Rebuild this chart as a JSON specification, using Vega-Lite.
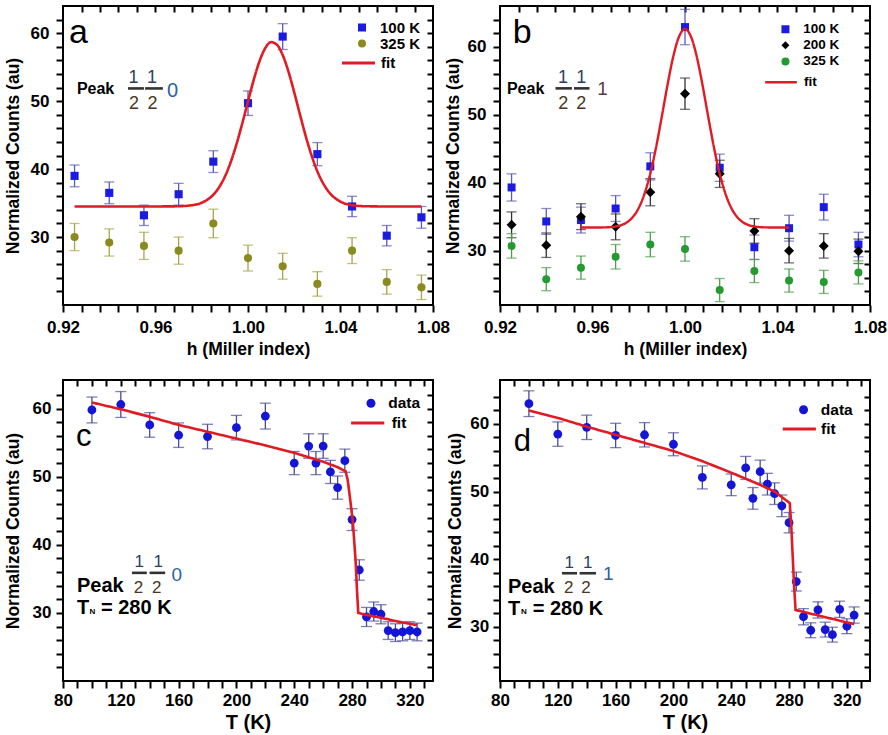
{
"$schema": "https://vega.github.io/schema/vega-lite/v6.json",
"background": "white",
"padding": {"left": 3, "top": 4, "right": 5, "bottom": 5},
"config": {
  "font": "Liberation Sans",
  "view": {"stroke": "black", "strokeWidth": 2},
  "axis": {"grid": false, "domain": false, "ticks": true, "labelFont": "Liberation Sans", "labelFontSize": 17, "labelFontWeight": "bold", "labelColor": "black", "titleFont": "Liberation Sans", "titleFontSize": 17.5, "titleFontWeight": "bold", "titleColor": "black", "tickColor": "#000000", "tickWidth": 2, "tickOpacity": 1, "labelFlush": false, "labelOverlap": false},
  "legend": {"labelFont": "Liberation Sans", "labelFontWeight": "bold", "labelColor": "black", "padding": 0, "columns": 1}
},
"datasets": {
  "a_pts": [
    {"x": 0.925, "y": 39.0, "e": 1.6, "s": "100 K"}, {"x": 0.94, "y": 36.5, "e": 1.6, "s": "100 K"}, {"x": 0.955, "y": 33.2, "e": 1.5, "s": "100 K"}, {"x": 0.97, "y": 36.3, "e": 1.6, "s": "100 K"}, {"x": 0.985, "y": 41.1, "e": 1.6, "s": "100 K"}, {"x": 1.0, "y": 49.7, "e": 1.8, "s": "100 K"}, {"x": 1.015, "y": 59.5, "e": 1.9, "s": "100 K"}, {"x": 1.03, "y": 42.2, "e": 1.7, "s": "100 K"}, {"x": 1.045, "y": 34.5, "e": 1.5, "s": "100 K"}, {"x": 1.06, "y": 30.2, "e": 1.5, "s": "100 K"}, {"x": 1.075, "y": 32.9, "e": 1.6, "s": "100 K"},
    {"x": 0.925, "y": 30.0, "e": 2.0, "s": "325 K"}, {"x": 0.94, "y": 29.2, "e": 2.0, "s": "325 K"}, {"x": 0.955, "y": 28.7, "e": 2.0, "s": "325 K"}, {"x": 0.97, "y": 28.0, "e": 2.0, "s": "325 K"}, {"x": 0.985, "y": 32.0, "e": 2.1, "s": "325 K"}, {"x": 1.0, "y": 26.9, "e": 1.9, "s": "325 K"}, {"x": 1.015, "y": 25.7, "e": 1.9, "s": "325 K"}, {"x": 1.03, "y": 23.1, "e": 1.8, "s": "325 K"}, {"x": 1.045, "y": 28.0, "e": 1.9, "s": "325 K"}, {"x": 1.06, "y": 23.4, "e": 1.8, "s": "325 K"}, {"x": 1.075, "y": 22.6, "e": 1.8, "s": "325 K"}
  ],
  "a_fit": [
    {"x": 0.925, "y": 34.5, "s": "fit"}, {"x": 0.94, "y": 34.5, "s": "fit"}, {"x": 0.955, "y": 34.5, "s": "fit"}, {"x": 0.965, "y": 34.51, "s": "fit"}, {"x": 0.97, "y": 34.53, "s": "fit"}, {"x": 0.975, "y": 34.65, "s": "fit"}, {"x": 0.98, "y": 35.05, "s": "fit"}, {"x": 0.985, "y": 36.23, "s": "fit"}, {"x": 0.9875, "y": 37.33, "s": "fit"}, {"x": 0.99, "y": 38.89, "s": "fit"}, {"x": 0.9925, "y": 41.0, "s": "fit"}, {"x": 0.995, "y": 43.63, "s": "fit"}, {"x": 0.9975, "y": 46.69, "s": "fit"}, {"x": 1.0, "y": 49.97, "s": "fit"}, {"x": 1.0025, "y": 53.17, "s": "fit"}, {"x": 1.005, "y": 55.9, "s": "fit"}, {"x": 1.0075, "y": 57.83, "s": "fit"}, {"x": 1.01, "y": 58.68, "s": "fit"}, {"x": 1.0125, "y": 58.31, "s": "fit"}, {"x": 1.015, "y": 56.79, "s": "fit"}, {"x": 1.0175, "y": 54.34, "s": "fit"}, {"x": 1.02, "y": 51.28, "s": "fit"}, {"x": 1.0225, "y": 47.99, "s": "fit"}, {"x": 1.025, "y": 44.81, "s": "fit"}, {"x": 1.0275, "y": 41.99, "s": "fit"}, {"x": 1.03, "y": 39.67, "s": "fit"}, {"x": 1.0325, "y": 37.9, "s": "fit"}, {"x": 1.035, "y": 36.62, "s": "fit"}, {"x": 1.04, "y": 35.21, "s": "fit"}, {"x": 1.045, "y": 34.69, "s": "fit"}, {"x": 1.05, "y": 34.54, "s": "fit"}, {"x": 1.06, "y": 34.5, "s": "fit"}, {"x": 1.075, "y": 34.5, "s": "fit"}
  ],
  "b_pts": [
    {"x": 0.925, "y": 39.3, "e": 2.0, "s": "100 K"}, {"x": 0.94, "y": 34.3, "e": 1.9, "s": "100 K"}, {"x": 0.955, "y": 34.5, "e": 1.9, "s": "100 K"}, {"x": 0.97, "y": 36.2, "e": 1.9, "s": "100 K"}, {"x": 0.985, "y": 42.4, "e": 2.0, "s": "100 K"}, {"x": 1.0, "y": 62.9, "e": 2.6, "s": "100 K"}, {"x": 1.015, "y": 42.2, "e": 2.0, "s": "100 K"}, {"x": 1.03, "y": 30.5, "e": 1.8, "s": "100 K"}, {"x": 1.045, "y": 33.3, "e": 1.9, "s": "100 K"}, {"x": 1.06, "y": 36.4, "e": 1.9, "s": "100 K"}, {"x": 1.075, "y": 30.9, "e": 1.8, "s": "100 K"},
    {"x": 0.925, "y": 33.8, "e": 1.9, "s": "200 K"}, {"x": 0.94, "y": 30.8, "e": 1.8, "s": "200 K"}, {"x": 0.955, "y": 35.0, "e": 1.9, "s": "200 K"}, {"x": 0.97, "y": 33.5, "e": 1.9, "s": "200 K"}, {"x": 0.985, "y": 38.6, "e": 2.0, "s": "200 K"}, {"x": 1.0, "y": 53.1, "e": 2.3, "s": "200 K"}, {"x": 1.015, "y": 41.3, "e": 2.0, "s": "200 K"}, {"x": 1.03, "y": 32.9, "e": 1.8, "s": "200 K"}, {"x": 1.045, "y": 30.0, "e": 1.8, "s": "200 K"}, {"x": 1.06, "y": 30.7, "e": 1.8, "s": "200 K"}, {"x": 1.075, "y": 29.9, "e": 1.8, "s": "200 K"},
    {"x": 0.925, "y": 30.7, "e": 1.8, "s": "325 K"}, {"x": 0.94, "y": 25.8, "e": 1.7, "s": "325 K"}, {"x": 0.955, "y": 27.5, "e": 1.7, "s": "325 K"}, {"x": 0.97, "y": 29.1, "e": 1.8, "s": "325 K"}, {"x": 0.985, "y": 30.9, "e": 1.8, "s": "325 K"}, {"x": 1.0, "y": 30.25, "e": 1.8, "s": "325 K"}, {"x": 1.015, "y": 24.2, "e": 1.7, "s": "325 K"}, {"x": 1.03, "y": 27.0, "e": 1.7, "s": "325 K"}, {"x": 1.045, "y": 25.6, "e": 1.7, "s": "325 K"}, {"x": 1.06, "y": 25.4, "e": 1.7, "s": "325 K"}, {"x": 1.075, "y": 26.8, "e": 1.7, "s": "325 K"}
  ],
  "b_fit": [
    {"x": 0.955, "y": 33.4, "s": "fit"}, {"x": 0.96, "y": 33.4, "s": "fit"}, {"x": 0.965, "y": 33.42, "s": "fit"}, {"x": 0.97, "y": 33.56, "s": "fit"}, {"x": 0.9725, "y": 33.77, "s": "fit"}, {"x": 0.975, "y": 34.19, "s": "fit"}, {"x": 0.9775, "y": 34.97, "s": "fit"}, {"x": 0.98, "y": 36.29, "s": "fit"}, {"x": 0.9825, "y": 38.37, "s": "fit"}, {"x": 0.985, "y": 41.35, "s": "fit"}, {"x": 0.9875, "y": 45.23, "s": "fit"}, {"x": 0.99, "y": 49.78, "s": "fit"}, {"x": 0.9925, "y": 54.5, "s": "fit"}, {"x": 0.995, "y": 58.67, "s": "fit"}, {"x": 0.9975, "y": 61.56, "s": "fit"}, {"x": 1.0, "y": 62.6, "s": "fit"}, {"x": 1.0025, "y": 61.56, "s": "fit"}, {"x": 1.005, "y": 58.67, "s": "fit"}, {"x": 1.0075, "y": 54.5, "s": "fit"}, {"x": 1.01, "y": 49.78, "s": "fit"}, {"x": 1.0125, "y": 45.23, "s": "fit"}, {"x": 1.015, "y": 41.35, "s": "fit"}, {"x": 1.0175, "y": 38.37, "s": "fit"}, {"x": 1.02, "y": 36.29, "s": "fit"}, {"x": 1.0225, "y": 34.97, "s": "fit"}, {"x": 1.025, "y": 34.19, "s": "fit"}, {"x": 1.0275, "y": 33.77, "s": "fit"}, {"x": 1.03, "y": 33.56, "s": "fit"}, {"x": 1.035, "y": 33.42, "s": "fit"}, {"x": 1.04, "y": 33.4, "s": "fit"}, {"x": 1.045, "y": 33.4, "s": "fit"}
  ],
  "c_pts": [
    {"x": 100, "y": 59.8, "e": 1.9, "s": "data"}, {"x": 120, "y": 60.6, "e": 1.9, "s": "data"}, {"x": 140, "y": 57.6, "e": 1.8, "s": "data"}, {"x": 160, "y": 56.1, "e": 1.8, "s": "data"}, {"x": 180, "y": 55.9, "e": 1.8, "s": "data"}, {"x": 200, "y": 57.2, "e": 1.8, "s": "data"}, {"x": 220, "y": 58.9, "e": 1.9, "s": "data"}, {"x": 240, "y": 52.0, "e": 1.7, "s": "data"}, {"x": 250, "y": 54.5, "e": 1.8, "s": "data"}, {"x": 255, "y": 52.0, "e": 1.7, "s": "data"}, {"x": 260, "y": 54.5, "e": 1.8, "s": "data"}, {"x": 265, "y": 50.7, "e": 1.7, "s": "data"}, {"x": 270, "y": 48.4, "e": 1.7, "s": "data"}, {"x": 275, "y": 52.35, "e": 1.7, "s": "data"}, {"x": 280, "y": 43.7, "e": 1.6, "s": "data"}, {"x": 285, "y": 36.3, "e": 1.5, "s": "data"}, {"x": 290, "y": 29.4, "e": 1.4, "s": "data"}, {"x": 295, "y": 30.2, "e": 1.4, "s": "data"}, {"x": 300, "y": 29.8, "e": 1.4, "s": "data"}, {"x": 305, "y": 27.4, "e": 1.3, "s": "data"}, {"x": 310, "y": 27.1, "e": 1.3, "s": "data"}, {"x": 315, "y": 27.2, "e": 1.3, "s": "data"}, {"x": 320, "y": 27.4, "e": 1.3, "s": "data"}, {"x": 325, "y": 27.2, "e": 1.3, "s": "data"}
  ],
  "c_fit": [
    {"x": 100, "y": 60.9, "s": "fit"}, {"x": 120, "y": 59.9, "s": "fit"}, {"x": 140, "y": 58.8, "s": "fit"}, {"x": 160, "y": 57.6, "s": "fit"}, {"x": 180, "y": 56.6, "s": "fit"}, {"x": 200, "y": 55.6, "s": "fit"}, {"x": 220, "y": 54.6, "s": "fit"}, {"x": 240, "y": 53.5, "s": "fit"}, {"x": 260, "y": 52.2, "s": "fit"}, {"x": 270, "y": 51.4, "s": "fit"}, {"x": 275.5, "y": 50.8, "s": "fit"}, {"x": 277, "y": 49.5, "s": "fit"}, {"x": 278.5, "y": 47.0, "s": "fit"}, {"x": 280.5, "y": 43.5, "s": "fit"}, {"x": 282.5, "y": 37.5, "s": "fit"}, {"x": 283.5, "y": 33.0, "s": "fit"}, {"x": 284.3, "y": 30.0, "s": "fit"}, {"x": 290, "y": 29.7, "s": "fit"}, {"x": 300, "y": 29.3, "s": "fit"}, {"x": 310, "y": 28.8, "s": "fit"}, {"x": 325, "y": 28.2, "s": "fit"}
  ],
  "d_pts": [
    {"x": 100, "y": 63.0, "e": 1.9, "s": "data"}, {"x": 120, "y": 58.5, "e": 1.8, "s": "data"}, {"x": 140, "y": 59.5, "e": 1.8, "s": "data"}, {"x": 160, "y": 58.3, "e": 1.8, "s": "data"}, {"x": 180, "y": 58.4, "e": 1.8, "s": "data"}, {"x": 200, "y": 57.0, "e": 1.7, "s": "data"}, {"x": 220, "y": 52.1, "e": 1.7, "s": "data"}, {"x": 240, "y": 51.0, "e": 1.6, "s": "data"}, {"x": 250, "y": 53.5, "e": 1.7, "s": "data"}, {"x": 255, "y": 49.0, "e": 1.6, "s": "data"}, {"x": 260, "y": 52.95, "e": 1.7, "s": "data"}, {"x": 265, "y": 51.1, "e": 1.6, "s": "data"}, {"x": 270, "y": 49.7, "e": 1.6, "s": "data"}, {"x": 275, "y": 47.9, "e": 1.6, "s": "data"}, {"x": 280, "y": 45.4, "e": 1.5, "s": "data"}, {"x": 285, "y": 36.7, "e": 1.4, "s": "data"}, {"x": 290, "y": 31.5, "e": 1.2, "s": "data"}, {"x": 295, "y": 29.5, "e": 1.1, "s": "data"}, {"x": 300, "y": 32.5, "e": 1.2, "s": "data"}, {"x": 305, "y": 29.6, "e": 1.1, "s": "data"}, {"x": 310, "y": 28.85, "e": 1.1, "s": "data"}, {"x": 315, "y": 32.6, "e": 1.2, "s": "data"}, {"x": 320, "y": 30.1, "e": 1.1, "s": "data"}, {"x": 325, "y": 31.75, "e": 1.2, "s": "data"}
  ],
  "d_fit": [
    {"x": 100, "y": 62.0, "s": "fit"}, {"x": 120, "y": 60.9, "s": "fit"}, {"x": 140, "y": 59.6, "s": "fit"}, {"x": 160, "y": 58.4, "s": "fit"}, {"x": 180, "y": 57.2, "s": "fit"}, {"x": 200, "y": 56.0, "s": "fit"}, {"x": 220, "y": 54.5, "s": "fit"}, {"x": 240, "y": 52.8, "s": "fit"}, {"x": 260, "y": 51.0, "s": "fit"}, {"x": 270, "y": 50.0, "s": "fit"}, {"x": 280.5, "y": 48.3, "s": "fit"}, {"x": 281.5, "y": 45.0, "s": "fit"}, {"x": 282.5, "y": 40.5, "s": "fit"}, {"x": 283.5, "y": 36.0, "s": "fit"}, {"x": 284.5, "y": 32.5, "s": "fit"}, {"x": 300, "y": 31.7, "s": "fit"}, {"x": 325, "y": 30.4, "s": "fit"}
  ],
  "notes": [
    {"p": "a", "k": "letter", "t": "a", "x": 0.9226, "y": 58.5},
    {"p": "a", "k": "peak", "t": "Peak", "x": 0.926, "y": 51.0},
    {"p": "a", "k": "num", "t": "1", "x": 0.9505, "y": 52.6},
    {"p": "a", "k": "num", "t": "1", "x": 0.9585, "y": 52.6},
    {"p": "a", "k": "den", "t": "2", "x": 0.9507, "y": 48.8},
    {"p": "a", "k": "den", "t": "2", "x": 0.9587, "y": 48.8},
    {"p": "a", "k": "idx", "t": "0", "x": 0.965, "y": 50.6},
    {"p": "a", "k": "bar", "x": 0.9481, "x2": 0.955, "y": 51.87},
    {"p": "a", "k": "bar", "x": 0.9555, "x2": 0.9632, "y": 51.87},
    {"p": "b", "k": "letter", "t": "b", "x": 0.9255, "y": 60.5},
    {"p": "b", "k": "peak", "t": "Peak", "x": 0.923, "y": 53.0},
    {"p": "b", "k": "num", "t": "1", "x": 0.9472, "y": 54.6},
    {"p": "b", "k": "num", "t": "1", "x": 0.9551, "y": 54.6},
    {"p": "b", "k": "den", "t": "2", "x": 0.9474, "y": 50.9},
    {"p": "b", "k": "den", "t": "2", "x": 0.9551, "y": 50.9},
    {"p": "b", "k": "idx", "t": "1", "x": 0.9621, "y": 52.9},
    {"p": "b", "k": "bar", "x": 0.944, "x2": 0.9511, "y": 53.88},
    {"p": "b", "k": "bar", "x": 0.952, "x2": 0.9587, "y": 53.88},
    {"p": "c", "k": "letter", "t": "c", "x": 89, "y": 54.45},
    {"p": "c", "k": "peak", "t": "Peak", "x": 89.7, "y": 33.13},
    {"p": "c", "k": "peak", "t": "T", "x": 89.7, "y": 29.85},
    {"p": "c", "k": "peak", "t": "= 280 K", "x": 106.3, "y": 29.85},
    {"p": "c", "k": "sub", "t": "N", "x": 98.3, "y": 29.9},
    {"p": "c", "k": "num", "t": "1", "x": 132.7, "y": 36.7},
    {"p": "c", "k": "num", "t": "1", "x": 145.9, "y": 36.7},
    {"p": "c", "k": "den", "t": "2", "x": 132.3, "y": 32.94},
    {"p": "c", "k": "den", "t": "2", "x": 144.8, "y": 32.94},
    {"p": "c", "k": "idx", "t": "0", "x": 155.1, "y": 34.75},
    {"p": "c", "k": "bar", "x": 127.7, "x2": 138.0, "y": 35.88},
    {"p": "c", "k": "bar", "x": 139.9, "x2": 150.7, "y": 35.88},
    {"p": "d", "k": "letter", "t": "d", "x": 89.5, "y": 56.0},
    {"p": "d", "k": "peak", "t": "Peak", "x": 85.5, "y": 35.08},
    {"p": "d", "k": "peak", "t": "T", "x": 85.5, "y": 31.79},
    {"p": "d", "k": "peak", "t": "= 280 K", "x": 102.6, "y": 31.79},
    {"p": "d", "k": "sub", "t": "N", "x": 94.5, "y": 31.87},
    {"p": "d", "k": "num", "t": "1", "x": 127.9, "y": 38.77},
    {"p": "d", "k": "num", "t": "1", "x": 140.7, "y": 38.77},
    {"p": "d", "k": "den", "t": "2", "x": 127.5, "y": 34.98},
    {"p": "d", "k": "den", "t": "2", "x": 139.5, "y": 34.98},
    {"p": "d", "k": "idx", "t": "1", "x": 151.3, "y": 36.96},
    {"p": "d", "k": "bar", "x": 122.9, "x2": 133.3, "y": 37.93},
    {"p": "d", "k": "bar", "x": 135.1, "x2": 146.4, "y": 37.93}
  ]
},
"columns": 2,
"bounds": "flush",
"spacing": {"row": 75, "column": 67},
"resolve": {"scale": {"x": "independent", "y": "independent", "color": "independent", "shape": "independent", "strokeDash": "independent"}, "axis": {"x": "independent", "y": "independent"}, "legend": {"color": "independent", "shape": "independent", "strokeDash": "independent"}},
"concat": [
{
  "width": 370, "height": 299,
  "resolve": {"axis": {"x": "independent", "y": "independent"}},
  "layer": [
    {"data": {"name": "a_pts"}, "transform": [{"filter": "datum.s === '100 K'"}], "mark": {"type": "errorbar", "color": "#5a5abf", "thickness": 1.3, "ticks": {"size": 10}}, "encoding": {"x": {"field": "x", "type": "quantitative", "axis": null}, "y": {"field": "y", "type": "quantitative", "axis": null}, "yError": {"field": "e"}}},
    {"data": {"name": "a_pts"}, "transform": [{"filter": "datum.s === '325 K'"}], "mark": {"type": "errorbar", "color": "#a6a64a", "thickness": 1.3, "ticks": {"size": 10}}, "encoding": {"x": {"field": "x", "type": "quantitative", "axis": null}, "y": {"field": "y", "type": "quantitative", "axis": null}, "yError": {"field": "e"}}},
    {"data": {"name": "a_pts"}, "mark": {"type": "point", "filled": true, "opacity": 1, "size": 66},
     "encoding": {
       "x": {"field": "x", "type": "quantitative", "scale": {"domain": [0.92, 1.08], "nice": false, "zero": false},
             "axis": {"title": "h (Miller index)", "values": [0.92,0.928,0.936,0.944,0.952,0.96,0.968,0.976,0.984,0.992,1.0,1.008,1.016,1.024,1.032,1.04,1.048,1.056,1.064,1.072,1.08], "labelExpr": "abs(datum.value*25-round(datum.value*25))<0.001 ? format(datum.value,'.2f') : ''", "ticks": true, "tickSize": 7, "tickColor": "black", "tickWidth": 2, "labelFlush": false, "labelPadding": 7, "titlePadding": 5}},
       "y": {"field": "y", "type": "quantitative", "scale": {"domain": [20, 64], "nice": false, "zero": false},
             "axis": {"title": "Normalized Counts (au)", "values": [22,24,26,28,30,32,34,36,38,40,42,44,46,48,50,52,54,56,58,60,62], "labelExpr": "datum.value % 10 === 0 ? datum.label : ''", "ticks": true, "tickSize": 7, "tickColor": "black", "tickWidth": 2, "labelPadding": 7, "titlePadding": 8}},
       "color": {"field": "s", "type": "nominal", "scale": {"domain": ["100 K", "325 K"], "range": ["#1c1ce0", "#8a8a20"]},
                 "legend": {"title": null, "orient": "none", "legendX": 291.5, "legendY": 14, "labelOffset": 10.5, "rowPadding": -4.5, "labelFontSize": 15, "symbolSize": 64, "symbolStrokeWidth": 0}},
       "shape": {"field": "s", "type": "nominal", "scale": {"domain": ["100 K", "325 K"], "range": ["square", "circle"]},
                 "legend": {"title": null, "orient": "none", "legendX": 291.5, "legendY": 14, "labelOffset": 10.5, "rowPadding": -4.5, "labelFontSize": 15, "symbolSize": 64, "symbolStrokeWidth": 0}}
     }},
    {"data": {"name": "a_fit"}, "mark": {"type": "line", "strokeWidth": 2.6, "interpolate": "monotone", "color": "#e01b24"},
     "encoding": {
       "x": {"field": "x", "type": "quantitative", "scale": {"domain": [0.92, 1.08], "nice": false, "zero": false},
             "axis": {"orient": "top", "labels": false, "title": null, "values": [0.928,0.936,0.944,0.952,0.96,0.968,0.976,0.984,0.992,1.0,1.008,1.016,1.024,1.032,1.04,1.048,1.056,1.064,1.072], "ticks": true, "tickSize": -6, "tickColor": "black", "tickWidth": 2}},
       "y": {"field": "y", "type": "quantitative", "scale": {"domain": [20, 64], "nice": false, "zero": false},
             "axis": {"orient": "right", "labels": false, "title": null, "values": [22,24,26,28,30,32,34,36,38,40,42,44,46,48,50,52,54,56,58,60,62], "ticks": true, "tickSize": -6, "tickColor": "black", "tickWidth": 2}},
       "strokeDash": {"field": "s", "type": "nominal", "scale": {"domain": ["fit"], "range": [[1, 0]]},
                 "legend": {"title": null, "orient": "none", "legendX": 277.5, "legendY": 39, "labelOffset": 4.5, "labelFontSize": 15, "symbolSize": 1089, "symbolStrokeWidth": 3, "symbolType": "stroke", "symbolStrokeColor": "#e01b24"}}
     }},
    {"data": {"name": "notes"}, "transform": [{"filter": "datum.p === 'a' && datum.k === 'letter'"}], "mark": {"type": "text", "font": "Liberation Sans", "fontSize": 34, "align": "left", "baseline": "alphabetic", "color": "black"}, "encoding": {"x": {"field": "x", "type": "quantitative", "axis": null}, "y": {"field": "y", "type": "quantitative", "axis": null}, "text": {"field": "t"}}},
    {"data": {"name": "notes"}, "transform": [{"filter": "datum.p === 'a' && datum.k === 'peak'"}], "mark": {"type": "text", "font": "Liberation Sans", "fontSize": 16, "fontWeight": "bold", "align": "left", "baseline": "alphabetic", "color": "black"}, "encoding": {"x": {"field": "x", "type": "quantitative", "axis": null}, "y": {"field": "y", "type": "quantitative", "axis": null}, "text": {"field": "t"}}},
    {"data": {"name": "notes"}, "transform": [{"filter": "datum.p === 'a' && datum.k === 'num'"}], "mark": {"type": "text", "font": "Liberation Sans", "fontSize": 18, "align": "center", "baseline": "alphabetic", "color": "#2b3f66"}, "encoding": {"x": {"field": "x", "type": "quantitative", "axis": null}, "y": {"field": "y", "type": "quantitative", "axis": null}, "text": {"field": "t"}}},
    {"data": {"name": "notes"}, "transform": [{"filter": "datum.p === 'a' && datum.k === 'den'"}], "mark": {"type": "text", "font": "Liberation Sans", "fontSize": 18, "align": "center", "baseline": "alphabetic", "color": "#4a3522"}, "encoding": {"x": {"field": "x", "type": "quantitative", "axis": null}, "y": {"field": "y", "type": "quantitative", "axis": null}, "text": {"field": "t"}}},
    {"data": {"name": "notes"}, "transform": [{"filter": "datum.p === 'a' && datum.k === 'idx'"}], "mark": {"type": "text", "font": "Liberation Sans", "fontSize": 20, "align": "left", "baseline": "alphabetic", "color": "#2f5f9f"}, "encoding": {"x": {"field": "x", "type": "quantitative", "axis": null}, "y": {"field": "y", "type": "quantitative", "axis": null}, "text": {"field": "t"}}},
    {"data": {"name": "notes"}, "transform": [{"filter": "datum.p === 'a' && datum.k === 'bar'"}], "mark": {"type": "rule", "strokeWidth": 2.6, "color": "#333333"}, "encoding": {"x": {"field": "x", "type": "quantitative", "axis": null}, "x2": {"field": "x2"}, "y": {"field": "y", "type": "quantitative", "axis": null}}}
  ]
},
{
  "width": 370, "height": 299,
  "resolve": {"axis": {"x": "independent", "y": "independent"}},
  "layer": [
    {"data": {"name": "b_pts"}, "transform": [{"filter": "datum.s === '100 K'"}], "mark": {"type": "errorbar", "color": "#5a5abf", "thickness": 1.3, "ticks": {"size": 10}}, "encoding": {"x": {"field": "x", "type": "quantitative", "axis": null}, "y": {"field": "y", "type": "quantitative", "axis": null}, "yError": {"field": "e"}}},
    {"data": {"name": "b_pts"}, "transform": [{"filter": "datum.s === '200 K'"}], "mark": {"type": "errorbar", "color": "#333333", "thickness": 1.3, "ticks": {"size": 10}}, "encoding": {"x": {"field": "x", "type": "quantitative", "axis": null}, "y": {"field": "y", "type": "quantitative", "axis": null}, "yError": {"field": "e"}}},
    {"data": {"name": "b_pts"}, "transform": [{"filter": "datum.s === '325 K'"}], "mark": {"type": "errorbar", "color": "#4aa04a", "thickness": 1.3, "ticks": {"size": 10}}, "encoding": {"x": {"field": "x", "type": "quantitative", "axis": null}, "y": {"field": "y", "type": "quantitative", "axis": null}, "yError": {"field": "e"}}},
    {"data": {"name": "b_pts"}, "transform": [{"filter": "datum.s !== '200 K'"}], "mark": {"type": "point", "filled": true, "opacity": 1, "size": 64},
     "encoding": {
       "x": {"field": "x", "type": "quantitative", "scale": {"domain": [0.92, 1.08], "nice": false, "zero": false},
             "axis": {"title": "h (Miller index)", "values": [0.92,0.928,0.936,0.944,0.952,0.96,0.968,0.976,0.984,0.992,1.0,1.008,1.016,1.024,1.032,1.04,1.048,1.056,1.064,1.072,1.08], "labelExpr": "abs(datum.value*25-round(datum.value*25))<0.001 ? format(datum.value,'.2f') : ''", "ticks": true, "tickSize": 7, "tickColor": "black", "tickWidth": 2, "labelFlush": false, "labelPadding": 7, "titlePadding": 5}},
       "y": {"field": "y", "type": "quantitative", "scale": {"domain": [22, 66], "nice": false, "zero": false},
             "axis": {"title": "Normalized Counts (au)", "values": [24,26,28,30,32,34,36,38,40,42,44,46,48,50,52,54,56,58,60,62,64], "labelExpr": "datum.value % 10 === 0 ? datum.label : ''", "ticks": true, "tickSize": 7, "tickColor": "black", "tickWidth": 2, "labelPadding": 7, "titlePadding": 5}},
       "color": {"field": "s", "type": "nominal", "scale": {"domain": ["100 K", "200 K", "325 K"], "range": ["#1c1ce0", "#000000", "#249a30"]},
                 "legend": {"title": null, "orient": "none", "legendX": 278.7, "legendY": 16.5, "labelOffset": 11, "rowPadding": 1.1, "labelFontSize": 13.5, "symbolSize": 64, "symbolStrokeWidth": 0}},
       "shape": {"field": "s", "type": "nominal", "scale": {"domain": ["100 K", "200 K", "325 K"], "range": ["square", "diamond", "circle"]},
                 "legend": {"title": null, "orient": "none", "legendX": 278.7, "legendY": 16.5, "labelOffset": 11, "rowPadding": 1.1, "labelFontSize": 13.5, "symbolSize": 64, "symbolStrokeWidth": 0}}
     }},
    {"data": {"name": "b_pts"}, "transform": [{"filter": "datum.s === '200 K'"}], "mark": {"type": "point", "filled": true, "opacity": 1, "size": 100},
     "encoding": {
       "x": {"field": "x", "type": "quantitative", "axis": null},
       "y": {"field": "y", "type": "quantitative", "axis": null},
       "color": {"field": "s", "type": "nominal", "scale": {"domain": ["100 K", "200 K", "325 K"], "range": ["#1c1ce0", "#000000", "#249a30"]}, "legend": {"title": null, "orient": "none", "legendX": 278.7, "legendY": 16.5, "labelOffset": 11, "rowPadding": 1.1, "labelFontSize": 13.5, "symbolSize": 64, "symbolStrokeWidth": 0}},
       "shape": {"field": "s", "type": "nominal", "scale": {"domain": ["100 K", "200 K", "325 K"], "range": ["square", "diamond", "circle"]}, "legend": {"title": null, "orient": "none", "legendX": 278.7, "legendY": 16.5, "labelOffset": 11, "rowPadding": 1.1, "labelFontSize": 13.5, "symbolSize": 64, "symbolStrokeWidth": 0}}
     }},
    {"data": {"name": "b_fit"}, "mark": {"type": "line", "strokeWidth": 2.4, "interpolate": "monotone", "color": "#e01b24"},
     "encoding": {
       "x": {"field": "x", "type": "quantitative", "scale": {"domain": [0.92, 1.08], "nice": false, "zero": false},
             "axis": {"orient": "top", "labels": false, "title": null, "values": [0.928,0.936,0.944,0.952,0.96,0.968,0.976,0.984,0.992,1.0,1.008,1.016,1.024,1.032,1.04,1.048,1.056,1.064,1.072], "ticks": true, "tickSize": -6, "tickColor": "black", "tickWidth": 2}},
       "y": {"field": "y", "type": "quantitative", "scale": {"domain": [22, 66], "nice": false, "zero": false},
             "axis": {"orient": "right", "labels": false, "title": null, "values": [24,26,28,30,32,34,36,38,40,42,44,46,48,50,52,54,56,58,60,62,64], "ticks": true, "tickSize": -6, "tickColor": "black", "tickWidth": 2}},
       "strokeDash": {"field": "s", "type": "nominal", "scale": {"domain": ["fit"], "range": [[1, 0]]},
                 "legend": {"title": null, "orient": "none", "legendX": 263.5, "legendY": 58.7, "labelOffset": 5.5, "labelFontSize": 13.5, "symbolSize": 1000, "symbolStrokeWidth": 2.6, "symbolType": "stroke", "symbolStrokeColor": "#e01b24"}}
     }},
    {"data": {"name": "notes"}, "transform": [{"filter": "datum.p === 'b' && datum.k === 'letter'"}], "mark": {"type": "text", "font": "Liberation Sans", "fontSize": 34, "align": "left", "baseline": "alphabetic", "color": "black"}, "encoding": {"x": {"field": "x", "type": "quantitative", "axis": null}, "y": {"field": "y", "type": "quantitative", "axis": null}, "text": {"field": "t"}}},
    {"data": {"name": "notes"}, "transform": [{"filter": "datum.p === 'b' && datum.k === 'peak'"}], "mark": {"type": "text", "font": "Liberation Sans", "fontSize": 16, "fontWeight": "bold", "align": "left", "baseline": "alphabetic", "color": "black"}, "encoding": {"x": {"field": "x", "type": "quantitative", "axis": null}, "y": {"field": "y", "type": "quantitative", "axis": null}, "text": {"field": "t"}}},
    {"data": {"name": "notes"}, "transform": [{"filter": "datum.p === 'b' && datum.k === 'num'"}], "mark": {"type": "text", "font": "Liberation Sans", "fontSize": 18, "align": "center", "baseline": "alphabetic", "color": "#2b3f66"}, "encoding": {"x": {"field": "x", "type": "quantitative", "axis": null}, "y": {"field": "y", "type": "quantitative", "axis": null}, "text": {"field": "t"}}},
    {"data": {"name": "notes"}, "transform": [{"filter": "datum.p === 'b' && datum.k === 'den'"}], "mark": {"type": "text", "font": "Liberation Sans", "fontSize": 18, "align": "center", "baseline": "alphabetic", "color": "#4a3522"}, "encoding": {"x": {"field": "x", "type": "quantitative", "axis": null}, "y": {"field": "y", "type": "quantitative", "axis": null}, "text": {"field": "t"}}},
    {"data": {"name": "notes"}, "transform": [{"filter": "datum.p === 'b' && datum.k === 'idx'"}], "mark": {"type": "text", "font": "Liberation Sans", "fontSize": 19, "align": "left", "baseline": "alphabetic", "color": "#5a3a4a"}, "encoding": {"x": {"field": "x", "type": "quantitative", "axis": null}, "y": {"field": "y", "type": "quantitative", "axis": null}, "text": {"field": "t"}}},
    {"data": {"name": "notes"}, "transform": [{"filter": "datum.p === 'b' && datum.k === 'bar'"}], "mark": {"type": "rule", "strokeWidth": 2.6, "color": "#333333"}, "encoding": {"x": {"field": "x", "type": "quantitative", "axis": null}, "x2": {"field": "x2"}, "y": {"field": "y", "type": "quantitative", "axis": null}}}
  ]
},
{
  "width": 370, "height": 301,
  "resolve": {"axis": {"x": "independent", "y": "independent"}},
  "layer": [
    {"data": {"name": "c_pts"}, "mark": {"type": "errorbar", "color": "#4a4a99", "thickness": 1.3, "ticks": {"size": 11}}, "encoding": {"x": {"field": "x", "type": "quantitative", "axis": null}, "y": {"field": "y", "type": "quantitative", "axis": null}, "yError": {"field": "e"}}},
    {"data": {"name": "c_pts"}, "mark": {"type": "point", "filled": true, "opacity": 1, "size": 78},
     "encoding": {
       "x": {"field": "x", "type": "quantitative", "scale": {"domain": [80, 336], "nice": false, "zero": false},
             "axis": {"title": "T (K)", "titleFontSize": 20, "values": [80,90,100,110,120,130,140,150,160,170,180,190,200,210,220,230,240,250,260,270,280,290,300,310,320,330], "labelExpr": "datum.value % 40 === 0 ? datum.label : ''", "ticks": true, "tickSize": 7, "tickColor": "black", "tickWidth": 2, "labelFlush": false, "labelPadding": 4, "titlePadding": 4}},
       "y": {"field": "y", "type": "quantitative", "scale": {"domain": [20, 64.2], "nice": false, "zero": false},
             "axis": {"title": "Normalized Counts (au)", "values": [22,24,26,28,30,32,34,36,38,40,42,44,46,48,50,52,54,56,58,60,62], "labelExpr": "datum.value % 10 === 0 ? datum.label : ''", "ticks": true, "tickSize": 7, "tickColor": "black", "tickWidth": 2, "labelPadding": 5, "titlePadding": 10}},
       "color": {"field": "s", "type": "nominal", "scale": {"domain": ["data"], "range": ["#1515d5"]},
                 "legend": {"title": null, "orient": "none", "legendX": 300.2, "legendY": 15.5, "labelOffset": 9.5, "labelFontSize": 15.5, "symbolSize": 80, "symbolStrokeWidth": 0}},
       "shape": {"field": "s", "type": "nominal", "scale": {"domain": ["data"], "range": ["circle"]},
                 "legend": {"title": null, "orient": "none", "legendX": 300.2, "legendY": 15.5, "labelOffset": 9.5, "labelFontSize": 15.5, "symbolSize": 80, "symbolStrokeWidth": 0}}
     }},
    {"data": {"name": "c_fit"}, "mark": {"type": "line", "strokeWidth": 2.6, "color": "#e01b24"},
     "encoding": {
       "x": {"field": "x", "type": "quantitative", "scale": {"domain": [80, 336], "nice": false, "zero": false},
             "axis": {"orient": "top", "labels": false, "title": null, "values": [90,100,110,120,130,140,150,160,170,180,190,200,210,220,230,240,250,260,270,280,290,300,310,320,330], "ticks": true, "tickSize": -6, "tickColor": "black", "tickWidth": 2}},
       "y": {"field": "y", "type": "quantitative", "scale": {"domain": [20, 64.2], "nice": false, "zero": false},
             "axis": {"orient": "right", "labels": false, "title": null, "values": [22,24,26,28,30,32,34,36,38,40,42,44,46,48,50,52,54,56,58,60,62], "ticks": true, "tickSize": -6, "tickColor": "black", "tickWidth": 2}},
       "strokeDash": {"field": "s", "type": "nominal", "scale": {"domain": ["fit"], "range": [[1, 0]]},
                 "legend": {"title": null, "orient": "none", "legendX": 286.2, "legendY": 24.4, "labelOffset": 5.5, "labelFontSize": 15.5, "symbolSize": 1100, "symbolStrokeWidth": 3, "symbolType": "stroke", "symbolStrokeColor": "#e01b24"}}
     }},
    {"data": {"name": "notes"}, "transform": [{"filter": "datum.p === 'c' && datum.k === 'letter'"}], "mark": {"type": "text", "font": "Liberation Sans", "fontSize": 31, "align": "left", "baseline": "alphabetic", "color": "black"}, "encoding": {"x": {"field": "x", "type": "quantitative", "axis": null}, "y": {"field": "y", "type": "quantitative", "axis": null}, "text": {"field": "t"}}},
    {"data": {"name": "notes"}, "transform": [{"filter": "datum.p === 'c' && datum.k === 'peak'"}], "mark": {"type": "text", "font": "Liberation Sans", "fontSize": 20, "fontWeight": "bold", "align": "left", "baseline": "alphabetic", "color": "black"}, "encoding": {"x": {"field": "x", "type": "quantitative", "axis": null}, "y": {"field": "y", "type": "quantitative", "axis": null}, "text": {"field": "t"}}},
    {"data": {"name": "notes"}, "transform": [{"filter": "datum.p === 'c' && datum.k === 'sub'"}], "mark": {"type": "text", "font": "Liberation Sans", "fontSize": 8, "fontWeight": "bold", "align": "left", "baseline": "alphabetic", "color": "black"}, "encoding": {"x": {"field": "x", "type": "quantitative", "axis": null}, "y": {"field": "y", "type": "quantitative", "axis": null}, "text": {"field": "t"}}},
    {"data": {"name": "notes"}, "transform": [{"filter": "datum.p === 'c' && datum.k === 'num'"}], "mark": {"type": "text", "font": "Liberation Sans", "fontSize": 17, "align": "center", "baseline": "alphabetic", "color": "#2b3f66"}, "encoding": {"x": {"field": "x", "type": "quantitative", "axis": null}, "y": {"field": "y", "type": "quantitative", "axis": null}, "text": {"field": "t"}}},
    {"data": {"name": "notes"}, "transform": [{"filter": "datum.p === 'c' && datum.k === 'den'"}], "mark": {"type": "text", "font": "Liberation Sans", "fontSize": 17, "align": "center", "baseline": "alphabetic", "color": "#4a3522"}, "encoding": {"x": {"field": "x", "type": "quantitative", "axis": null}, "y": {"field": "y", "type": "quantitative", "axis": null}, "text": {"field": "t"}}},
    {"data": {"name": "notes"}, "transform": [{"filter": "datum.p === 'c' && datum.k === 'idx'"}], "mark": {"type": "text", "font": "Liberation Sans", "fontSize": 19, "align": "left", "baseline": "alphabetic", "color": "#2f5f9f"}, "encoding": {"x": {"field": "x", "type": "quantitative", "axis": null}, "y": {"field": "y", "type": "quantitative", "axis": null}, "text": {"field": "t"}}},
    {"data": {"name": "notes"}, "transform": [{"filter": "datum.p === 'c' && datum.k === 'bar'"}], "mark": {"type": "rule", "strokeWidth": 2.6, "color": "#333333"}, "encoding": {"x": {"field": "x", "type": "quantitative", "axis": null}, "x2": {"field": "x2"}, "y": {"field": "y", "type": "quantitative", "axis": null}}}
  ]
},
{
  "width": 370, "height": 301,
  "resolve": {"axis": {"x": "independent", "y": "independent"}},
  "layer": [
    {"data": {"name": "d_pts"}, "mark": {"type": "errorbar", "color": "#4a4a99", "thickness": 1.3, "ticks": {"size": 11}}, "encoding": {"x": {"field": "x", "type": "quantitative", "axis": null}, "y": {"field": "y", "type": "quantitative", "axis": null}, "yError": {"field": "e"}}},
    {"data": {"name": "d_pts"}, "mark": {"type": "point", "filled": true, "opacity": 1, "size": 78},
     "encoding": {
       "x": {"field": "x", "type": "quantitative", "scale": {"domain": [80, 336], "nice": false, "zero": false},
             "axis": {"title": "T (K)", "titleFontSize": 20, "values": [80,90,100,110,120,130,140,150,160,170,180,190,200,210,220,230,240,250,260,270,280,290,300,310,320,330], "labelExpr": "datum.value % 40 === 0 ? datum.label : ''", "ticks": true, "tickSize": 7, "tickColor": "black", "tickWidth": 2, "labelFlush": false, "labelPadding": 4, "titlePadding": 4}},
       "y": {"field": "y", "type": "quantitative", "scale": {"domain": [22, 66.5], "nice": false, "zero": false},
             "axis": {"title": "Normalized Counts (au)", "values": [24,26,28,30,32,34,36,38,40,42,44,46,48,50,52,54,56,58,60,62,64], "labelExpr": "datum.value % 10 === 0 ? datum.label : ''", "ticks": true, "tickSize": 7, "tickColor": "black", "tickWidth": 2, "labelPadding": 4.3, "titlePadding": 5}},
       "color": {"field": "s", "type": "nominal", "scale": {"domain": ["data"], "range": ["#1515d5"]},
                 "legend": {"title": null, "orient": "none", "legendX": 295.8, "legendY": 22, "labelOffset": 9.5, "labelFontSize": 15.5, "symbolSize": 80, "symbolStrokeWidth": 0}},
       "shape": {"field": "s", "type": "nominal", "scale": {"domain": ["data"], "range": ["circle"]},
                 "legend": {"title": null, "orient": "none", "legendX": 295.8, "legendY": 22, "labelOffset": 9.5, "labelFontSize": 15.5, "symbolSize": 80, "symbolStrokeWidth": 0}}
     }},
    {"data": {"name": "d_fit"}, "mark": {"type": "line", "strokeWidth": 2.6, "color": "#e01b24"},
     "encoding": {
       "x": {"field": "x", "type": "quantitative", "scale": {"domain": [80, 336], "nice": false, "zero": false},
             "axis": {"orient": "top", "labels": false, "title": null, "values": [90,100,110,120,130,140,150,160,170,180,190,200,210,220,230,240,250,260,270,280,290,300,310,320,330], "ticks": true, "tickSize": -6, "tickColor": "black", "tickWidth": 2}},
       "y": {"field": "y", "type": "quantitative", "scale": {"domain": [22, 66.5], "nice": false, "zero": false},
             "axis": {"orient": "right", "labels": false, "title": null, "values": [24,26,28,30,32,34,36,38,40,42,44,46,48,50,52,54,56,58,60,62,64], "ticks": true, "tickSize": -6, "tickColor": "black", "tickWidth": 2}},
       "strokeDash": {"field": "s", "type": "nominal", "scale": {"domain": ["fit"], "range": [[1, 0]]},
                 "legend": {"title": null, "orient": "none", "legendX": 280.8, "legendY": 30.6, "labelOffset": 3.2, "labelFontSize": 15.5, "symbolSize": 1100, "symbolStrokeWidth": 3, "symbolType": "stroke", "symbolStrokeColor": "#e01b24"}}
     }},
    {"data": {"name": "notes"}, "transform": [{"filter": "datum.p === 'd' && datum.k === 'letter'"}], "mark": {"type": "text", "font": "Liberation Sans", "fontSize": 31, "align": "left", "baseline": "alphabetic", "color": "black"}, "encoding": {"x": {"field": "x", "type": "quantitative", "axis": null}, "y": {"field": "y", "type": "quantitative", "axis": null}, "text": {"field": "t"}}},
    {"data": {"name": "notes"}, "transform": [{"filter": "datum.p === 'd' && datum.k === 'peak'"}], "mark": {"type": "text", "font": "Liberation Sans", "fontSize": 20, "fontWeight": "bold", "align": "left", "baseline": "alphabetic", "color": "black"}, "encoding": {"x": {"field": "x", "type": "quantitative", "axis": null}, "y": {"field": "y", "type": "quantitative", "axis": null}, "text": {"field": "t"}}},
    {"data": {"name": "notes"}, "transform": [{"filter": "datum.p === 'd' && datum.k === 'sub'"}], "mark": {"type": "text", "font": "Liberation Sans", "fontSize": 8, "fontWeight": "bold", "align": "left", "baseline": "alphabetic", "color": "black"}, "encoding": {"x": {"field": "x", "type": "quantitative", "axis": null}, "y": {"field": "y", "type": "quantitative", "axis": null}, "text": {"field": "t"}}},
    {"data": {"name": "notes"}, "transform": [{"filter": "datum.p === 'd' && datum.k === 'num'"}], "mark": {"type": "text", "font": "Liberation Sans", "fontSize": 17, "align": "center", "baseline": "alphabetic", "color": "#2b3f66"}, "encoding": {"x": {"field": "x", "type": "quantitative", "axis": null}, "y": {"field": "y", "type": "quantitative", "axis": null}, "text": {"field": "t"}}},
    {"data": {"name": "notes"}, "transform": [{"filter": "datum.p === 'd' && datum.k === 'den'"}], "mark": {"type": "text", "font": "Liberation Sans", "fontSize": 17, "align": "center", "baseline": "alphabetic", "color": "#4a3522"}, "encoding": {"x": {"field": "x", "type": "quantitative", "axis": null}, "y": {"field": "y", "type": "quantitative", "axis": null}, "text": {"field": "t"}}},
    {"data": {"name": "notes"}, "transform": [{"filter": "datum.p === 'd' && datum.k === 'idx'"}], "mark": {"type": "text", "font": "Liberation Sans", "fontSize": 19, "align": "left", "baseline": "alphabetic", "color": "#2f5f9f"}, "encoding": {"x": {"field": "x", "type": "quantitative", "axis": null}, "y": {"field": "y", "type": "quantitative", "axis": null}, "text": {"field": "t"}}},
    {"data": {"name": "notes"}, "transform": [{"filter": "datum.p === 'd' && datum.k === 'bar'"}], "mark": {"type": "rule", "strokeWidth": 2.6, "color": "#333333"}, "encoding": {"x": {"field": "x", "type": "quantitative", "axis": null}, "x2": {"field": "x2"}, "y": {"field": "y", "type": "quantitative", "axis": null}}}
  ]
}
]
}
